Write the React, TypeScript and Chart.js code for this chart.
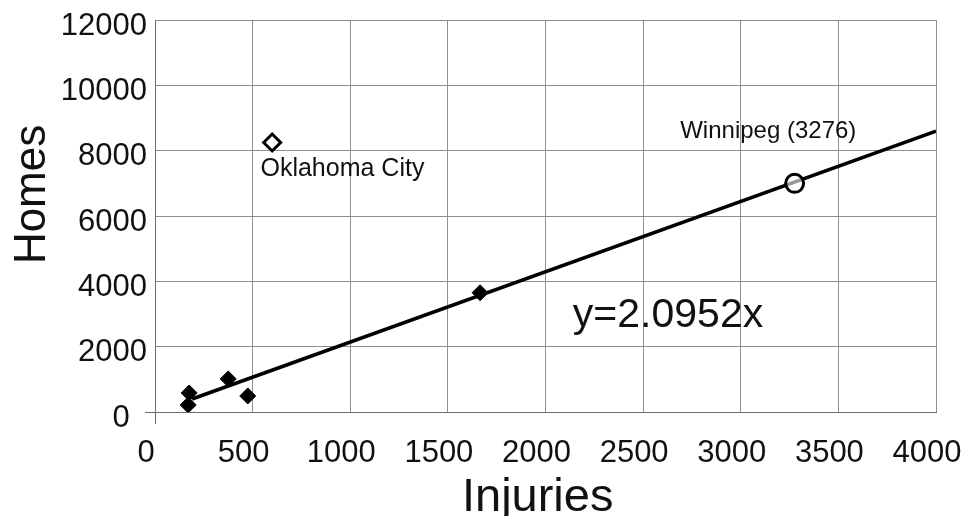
import React, { useEffect, useRef } from 'react';
import { Chart, registerables } from 'chart.js';

Chart.register(...registerables);

const FONT = '"Liberation Sans", Arial, Helvetica, sans-serif';

// Filled diamonds (other tornadoes)
const injuries = [175, 170, 375, 475, 1665];
const homes = [583, 215, 1013, 491, 3650];
// Oklahoma City (open diamond)
const okcInjuries = [600];
const okcHomes = [8250];
// Winnipeg (open circle)
const winnipegInjuries = [3276];
const winnipegHomes = [7000];
// Trend line y = 2.0952x (end points)
const trendInjuries = [190, 4000];
const trendHomes = [398, 8600];

// Axis ranges / tick steps
const xRange = [0, 4000];
const xStep = 500;
const yRange = [0, 12000];
const yStep = 2000;

// Texts placed at data coordinates (left edge x, baseline y)
const noteTexts = ['Oklahoma City', 'Winnipeg (3276)', 'y=2.0952x'];
const noteX = [540, 2690, 2140];
const noteY = [7213, 8379, 2609];
const noteSize = [25, 24, 41];

const xTitle = 'Injuries';
const yTitle = 'Homes';

export default function App() {
  const ref = useRef<HTMLCanvasElement | null>(null);

  useEffect(() => {
    document.body.style.margin = '0';
    const canvas = ref.current;
    if (!canvas) return;

    const textPlugin = {
      id: 'texts',
      afterDraw(chart: any) {
        const { ctx, scales, chartArea } = chart;
        const x = scales.x;
        const y = scales.y;
        ctx.save();
        ctx.fillStyle = '#111';
        ctx.textBaseline = 'alphabetic';
        ctx.textAlign = 'left';
        noteTexts.forEach((t, i) => {
          ctx.font = `${noteSize[i]}px ${FONT}`;
          ctx.fillText(t, x.getPixelForValue(noteX[i]), y.getPixelForValue(noteY[i]));
        });
        // axis titles
        ctx.textAlign = 'center';
        ctx.font = `47px ${FONT}`;
        ctx.fillText(xTitle, x.getPixelForValue(1960), chartArea.bottom + 99);
        ctx.font = `44px ${FONT}`;
        ctx.translate(chartArea.left - 110, y.getPixelForValue(6660));
        ctx.rotate(-Math.PI / 2);
        ctx.fillText(yTitle, 0, 0);
        ctx.restore();
      },
    };

    const gridColor = '#8f8f8f';
    const axisColor = '#6a6a6a';

    const chart = new Chart(canvas, {
      type: 'scatter',
      data: {
        datasets: [
          {
            label: 'Tornadoes',
            data: injuries.map((v, i) => ({ x: v, y: homes[i] })),
            pointStyle: 'rectRot',
            pointRadius: 8,
            backgroundColor: '#000',
            borderColor: '#000',
            borderWidth: 1,
          },
          {
            label: 'Oklahoma City',
            data: okcInjuries.map((v, i) => ({ x: v, y: okcHomes[i] })),
            pointStyle: 'rectRot',
            pointRadius: 8.5,
            backgroundColor: '#fff',
            borderColor: '#000',
            borderWidth: 3,
          },
          {
            label: 'Winnipeg',
            data: winnipegInjuries.map((v, i) => ({ x: v, y: winnipegHomes[i] })),
            pointStyle: 'circle',
            pointRadius: 9,
            backgroundColor: 'rgba(255,255,255,0.6)',
            borderColor: '#000',
            borderWidth: 3,
          },
          {
            label: 'Trend',
            data: trendInjuries.map((v, i) => ({ x: v, y: trendHomes[i] })),
            showLine: true,
            pointRadius: 0,
            borderColor: '#000',
            borderWidth: 3.5,
            backgroundColor: '#000',
          },
        ],
      },
      options: {
        animation: false,
        responsive: false,
        maintainAspectRatio: false,
        layout: { padding: { top: 20, right: 41, left: 0, bottom: 0 } },
        plugins: {
          legend: { display: false },
          tooltip: { enabled: false },
          title: { display: false },
        },
        scales: {
          x: {
            type: 'linear',
            min: xRange[0],
            max: xRange[1],
            afterFit: (s: any) => {
              s.height = 104;
              s.paddingRight = 0;
              s.paddingLeft = 0;
            },
            ticks: {
              stepSize: xStep,
              color: '#111',
              font: { family: FONT, size: 31 },
              padding: 11,
              labelOffset: -9,
              maxRotation: 0,
              autoSkip: false,
              callback: (v: any) => String(v),
            },
            grid: {
              color: gridColor,
              lineWidth: 1,
              tickLength: 12,
              tickColor: (c: any) => (c.tick && c.tick.value === 0 ? axisColor : 'rgba(0,0,0,0)'),
            },
            border: { color: axisColor, width: 1 },
          },
          y: {
            type: 'linear',
            min: yRange[0],
            max: yRange[1],
            afterFit: (s: any) => {
              s.width = 155;
            },
            ticks: {
              stepSize: yStep,
              color: '#111',
              font: { family: FONT, size: 31 },
              padding: -2,
              labelOffset: 6,
              callback: (v: any) => (v === 0 ? '0  ' : String(v)),
            },
            grid: {
              color: gridColor,
              lineWidth: 1,
              tickLength: 10,
              tickColor: (c: any) => (c.tick && c.tick.value === 0 ? axisColor : 'rgba(0,0,0,0)'),
            },
            border: { color: axisColor, width: 1 },
          },
        },
      },
      plugins: [textPlugin],
    });

    return () => chart.destroy();
  }, []);

  return (
    <div style={{ position: 'absolute', left: 0, top: 0, width: 977, height: 516, background: '#fff' }}>
      <canvas ref={ref} width={977} height={516} style={{ width: 977, height: 516, display: 'block' }} />
    </div>
  );
}
